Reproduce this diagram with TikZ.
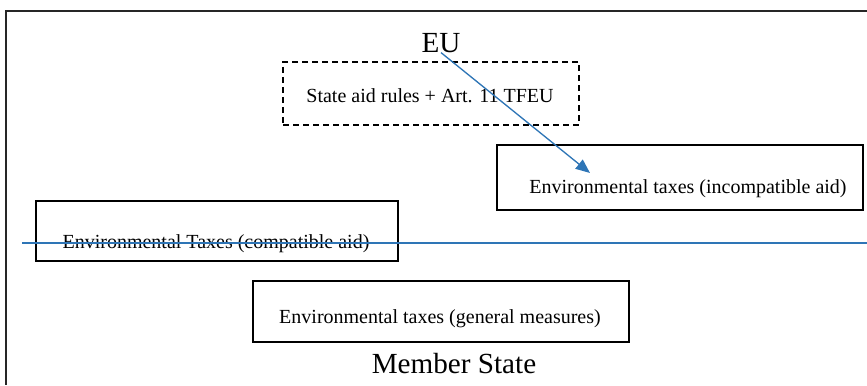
\documentclass[tikz,border=0pt]{standalone}
\usepackage{fontspec}
\setmainfont{Liberation Serif}
\usetikzlibrary{arrows.meta}
\definecolor{wordblue}{RGB}{46,117,182}

\begin{document}
\begin{tikzpicture}[x=0.6pt, y=-0.6pt,
        box/.style={draw, line width=0.8pt, inner sep=0pt},
        txt/.style={inner sep=0pt, anchor=base, font=\fontsize{12}{14}\selectfont},
        big/.style={inner sep=0pt, anchor=base, font=\fontsize{17.5}{20}\selectfont},
        blueline/.style={draw=wordblue, line width=0.8pt}]
    \useasboundingbox (0,0) rectangle (867,385);
    \draw[line width=1.2pt, black!85] (867,11) -- (6,11) -- (6,385);

    \node[big] (eu) at (441,52) {EU};
    \node[box, dashed, dash pattern=on 3.5pt off 2.5pt, minimum width=296*0.6pt, minimum height=63*0.6pt] (rules) at (431,93.5) {};
    \node[txt] (rulestxt) at (430,102) {State aid rules + Art. 11 TFEU};

    \node[box, minimum width=366*0.6pt, minimum height=65*0.6pt] (incomp) at (680,177.5) {};
    \node[txt] (incomptxt) at (688,193) {Environmental taxes (incompatible aid)};

    \node[box, minimum width=362*0.6pt, minimum height=60*0.6pt] (comp) at (217,231) {};
    \node[txt] (comptxt) at (216,248) {Environmental Taxes (compatible aid)};

    \node[box, minimum width=376*0.6pt, minimum height=61*0.6pt] (general) at (441,311.5) {};
    \node[txt] (generaltxt) at (440,323) {Environmental taxes (general measures)};

    \node[big] (ms) at (454,373) {Member State};

    \coordinate (tip) at (590,173);
    \draw[blueline, -{Triangle[length=8.5pt, width=7pt]}] (eu.south) -- (tip);

    \coordinate (divleft) at (22,243);
    \coordinate (divright) at (867,243);
    \draw[blueline] (divleft) -- (divright);
\end{tikzpicture}
\end{document}
